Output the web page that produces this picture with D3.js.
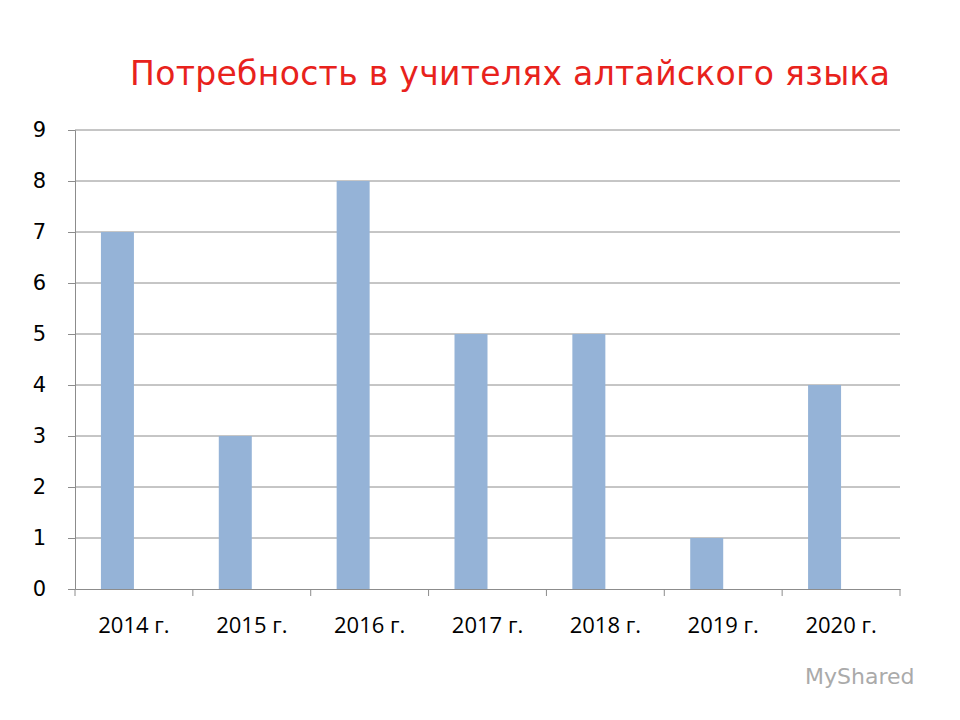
<!DOCTYPE html>
<html><head><meta charset="utf-8">
<script src="https://cdn.jsdelivr.net/npm/d3@7"></script>
<style>body{margin:0;background:#fff}</style>
</head><body>
<script>
var years = ["2014 г.", "2015 г.", "2016 г.", "2017 г.", "2018 г.", "2019 г.", "2020 г."];
var needs = [7, 3, 8, 5, 5, 1, 4];
var yTicks = [0, 1, 2, 3, 4, 5, 6, 7, 8, 9];

var svg = d3.select("body").append("svg").attr("width", 960).attr("height", 720);
var mLeft = 75, mRight = 900, mTop = 130, mBottom = 589;

var x = d3.scaleBand().domain(years).range([mLeft, mRight]);
var y = d3.scaleLinear().domain([0, 9]).range([mBottom, mTop]);

svg.append("text").attr("x", 510).attr("y", 85).attr("text-anchor", "middle")
  .attr("fill", "#e8221c").style("font-family", "'Comic Sans MS', 'DejaVu Sans', sans-serif")
  .style("font-size", "33px").attr("textLength", 760).text("Потребность в учителях алтайского языка");

// grid
svg.selectAll(".grid").data(yTicks.slice(1)).enter().append("line")
  .attr("x1", mLeft).attr("x2", mRight)
  .attr("y1", function(d) { return y(d); }).attr("y2", function(d) { return y(d); })
  .attr("stroke", "#8c8c8c").attr("stroke-width", 1);

// y axis
var ya = svg.append("g").attr("transform", "translate(" + mLeft + ",0)")
  .call(d3.axisLeft(y).tickValues(yTicks).tickSize(7).tickPadding(22));
ya.select(".domain").attr("stroke", "#8c8c8c");
ya.selectAll("line").attr("stroke", "#8c8c8c");
ya.selectAll("text").style("font-family", "'DejaVu Sans', sans-serif")
  .style("font-size", "21px").attr("fill", "#000");

// x axis
var xa = svg.append("g").attr("transform", "translate(0," + mBottom + ")")
  .call(d3.axisBottom(x).tickSize(0).tickPadding(28));
xa.select(".domain").attr("stroke", "#8c8c8c");
xa.selectAll("text").style("font-family", "'Open Sans', 'DejaVu Sans', sans-serif")
  .style("font-size", "22px").attr("fill", "#000");
svg.selectAll(".xt").data(years.concat(["end"])).enter().append("line")
  .attr("x1", function(d, i) { return mLeft + i * x.bandwidth(); })
  .attr("x2", function(d, i) { return mLeft + i * x.bandwidth(); })
  .attr("y1", mBottom).attr("y2", mBottom + 7).attr("stroke", "#8c8c8c");

// bars
svg.selectAll(".bar").data(needs).enter().append("rect")
  .attr("x", function(d, i) { return x(years[i]) + x.bandwidth() * 0.22; })
  .attr("width", x.bandwidth() * 0.28)
  .attr("y", function(d) { return y(d); })
  .attr("height", function(d) { return mBottom - y(d); })
  .attr("fill", "#95b3d7");

svg.append("text").attr("x", 805).attr("y", 684).attr("fill", "#aaa")
  .style("font-family", "'DejaVu Sans', sans-serif").style("font-size", "22px").text("MyShared");
</script>
</body></html>
